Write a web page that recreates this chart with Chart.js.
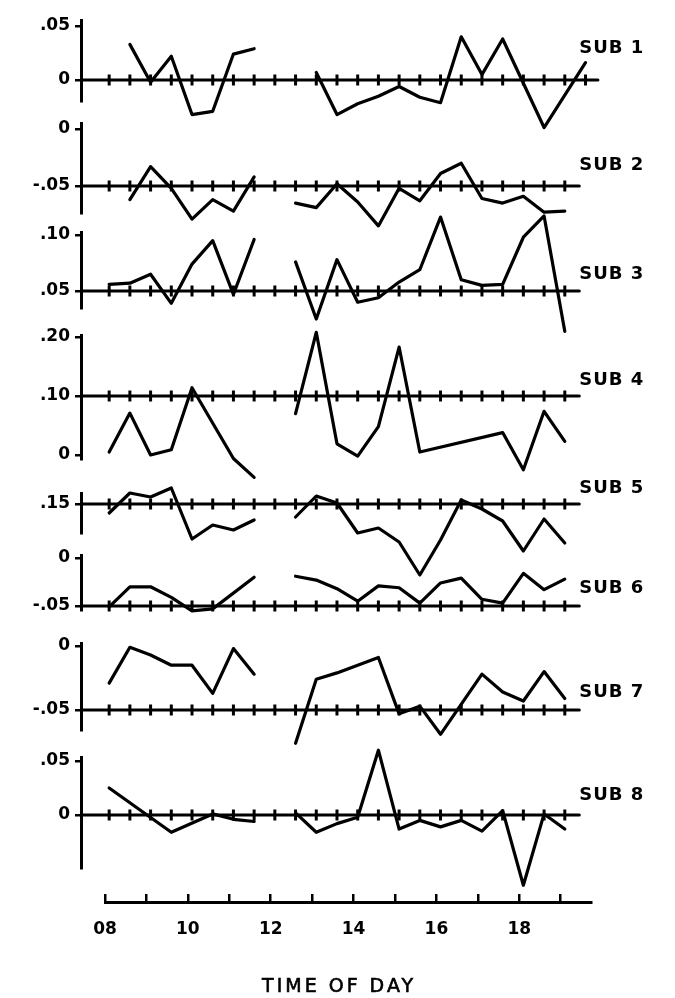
<!DOCTYPE html>
<html><head><meta charset="utf-8">
<script src="https://cdn.jsdelivr.net/npm/chart.js@4"></script>
<style>
html,body{margin:0;padding:0;background:#fff;}
#wrap{position:relative;width:675px;height:998px;overflow:hidden;background:#fff;}
#wrap canvas{position:absolute;left:0;top:0;}
</style></head><body><div id="wrap"></div>
<script>
// ---------- data ----------
const amTimes = [8.1, 8.6, 9.1, 9.6, 10.1, 10.6, 11.1, 11.6];
const lunchTime = 12.1;
const pmTimes = [12.6, 13.1, 13.6, 14.1, 14.6, 15.1, 15.6, 16.1, 16.6, 17.1, 17.6, 18.1, 18.6, 19.1, 19.6];

const subNames = ['SUB 1', 'SUB 2', 'SUB 3', 'SUB 4', 'SUB 5', 'SUB 6', 'SUB 7', 'SUB 8'];
const refLevels = [0, -0.05, 0.05, 0.10, 0.15, -0.05, -0.05, 0];

const sub1Am = [null, 0.033, -0.002, 0.022, -0.032, -0.029, 0.024, 0.029];
const sub1Pm = [null, 0.007, -0.032, -0.022, -0.015, -0.006, -0.016, -0.021, 0.040, 0.005, 0.038, null, -0.044, null, 0.016];
const sub2Am = [null, -0.062, -0.033, -0.052, -0.079, -0.062, -0.072, -0.042];
const sub2Pm = [-0.065, -0.069, -0.048, -0.064, -0.085, -0.052, -0.063, -0.039, -0.030, -0.061, -0.065, -0.059, -0.073, -0.072, null];
const sub3Am = [0.056, 0.057, 0.065, 0.039, 0.074, 0.095, 0.047, 0.096];
const sub3Pm = [0.076, 0.025, 0.078, 0.040, 0.044, 0.058, 0.069, 0.116, 0.060, 0.055, 0.056, 0.098, 0.117, 0.014, null];
const sub4Am = [0.005, 0.071, 0.000, 0.009, 0.114, null, -0.006, -0.038];
const sub4Pm = [0.070, 0.208, 0.019, -0.002, 0.048, 0.183, 0.005, null, null, null, 0.038, -0.025, 0.074, 0.023, null];
const sub5Am = [0.141, 0.161, 0.157, 0.166, 0.115, 0.129, 0.124, 0.134];
const sub5Pm = [0.137, 0.158, 0.151, 0.121, 0.126, 0.112, 0.079, 0.114, 0.154, 0.145, 0.133, 0.103, 0.135, 0.111, null];
const sub6Am = [-0.051, -0.030, -0.030, -0.041, -0.055, -0.053, null, -0.020];
const sub6Pm = [-0.019, -0.023, -0.032, -0.045, -0.029, -0.031, -0.047, -0.026, -0.021, -0.043, -0.047, -0.016, -0.033, -0.022, null];
const sub7Am = [-0.029, -0.001, -0.007, -0.015, -0.015, -0.037, -0.002, -0.022];
const sub7Pm = [-0.076, -0.026, -0.021, null, -0.009, -0.053, -0.047, -0.069, null, -0.022, -0.036, -0.043, -0.020, -0.041, null];
const sub8Am = [0.025, null, null, -0.016, null, 0.001, -0.004, -0.006];
const sub8Pm = [0.002, -0.016, -0.008, -0.002, 0.060, -0.013, -0.005, -0.011, -0.005, -0.015, 0.004, -0.065, 0.001, -0.013, null];

const amSeries = [sub1Am, sub2Am, sub3Am, sub4Am, sub5Am, sub6Am, sub7Am, sub8Am];
const pmSeries = [sub1Pm, sub2Pm, sub3Pm, sub4Pm, sub5Pm, sub6Pm, sub7Pm, sub8Pm];

const yTickValues = [[0.05, 0], [0, -0.05], [0.10, 0.05], [0.20, 0.10, 0], [0.15], [0, -0.05], [0, -0.05], [0.05, 0]];
const yTickLabels = [['.05', '0'], ['0', '-.05'], ['.10', '.05'], ['.20', '.10', '0'], ['.15'], ['0', '-.05'], ['0', '-.05'], ['.05', '0']];

const hourTicks = [8, 9, 10, 11, 12, 13, 14, 15, 16, 17, 18, 19];
const hourLabels = ['08', '', '10', '', '12', '', '14', '', '16', '', '18', ''];
const axisTitle = 'TIME OF DAY';

// ---------- layout (pixels) ----------
const W = 675, H = 998;
const AREA_LEFT = 81, AREA_RIGHT = 600, X_MIN = 7.42, X_MAX = 19.95;
const LABEL_HOUR = 19.45;
const panelLayout = [
  {top: 20,  bottom: 101, v1: 0.05, p1: 26,  v2: 0,     p2: 80,  refEnd: 19.9,  tickEnd: 19.6, labelY: 48},
  {top: 123, bottom: 213, v1: 0,    p1: 129, v2: -0.05, p2: 186, refEnd: 19.45, tickEnd: 19.1, labelY: 165},
  {top: 232, bottom: 308, v1: 0.10, p1: 235, v2: 0.05,  p2: 291, refEnd: 19.45, tickEnd: 19.1, labelY: 274},
  {top: 335, bottom: 459, v1: 0.20, p1: 337, v2: 0,     p2: 455, refEnd: 19.45, tickEnd: 19.1, labelY: 380},
  {top: 493, bottom: 533, v1: 0.15, p1: 504, v2: 0.10,  p2: 554, refEnd: 19.45, tickEnd: 19.1, labelY: 488},
  {top: 555, bottom: 610, v1: 0,    p1: 558, v2: -0.05, p2: 606, refEnd: 19.45, tickEnd: 19.1, labelY: 588},
  {top: 643, bottom: 730, v1: 0,    p1: 646, v2: -0.05, p2: 710, refEnd: 19.45, tickEnd: 19.1, labelY: 692},
  {top: 757, bottom: 868, v1: 0.05, p1: 761, v2: 0,     p2: 815, refEnd: 19.45, tickEnd: 19.1, labelY: 795}
];
const AXIS_Y = 902, AXIS_TICK_H = 8, AXIS_END = 19.75;
const TITLE_HOUR = 13.65, TITLE_Y = 987;

const FONT = '"DejaVu Sans", "Liberation Sans", sans-serif';
const wrap = document.getElementById('wrap');
const hourPx = h => AREA_LEFT + (h - X_MIN) * (AREA_RIGHT - AREA_LEFT) / (X_MAX - X_MIN);

function newCanvas() {
  const c = document.createElement('canvas');
  c.width = W; c.height = H; c.style.width = W + 'px'; c.style.height = H + 'px';
  wrap.appendChild(c);
  return c;
}

const subLabelPlugin = {
  id: 'subLabel',
  afterDraw(chart, args, opts) {
    const ctx = chart.ctx;
    ctx.save();
    ctx.font = 'bold 18px ' + FONT;
    try { ctx.letterSpacing = '1px'; } catch (e) {}
    ctx.fillStyle = '#000';
    ctx.textBaseline = 'middle';
    ctx.textAlign = 'left';
    ctx.fillText(opts.text, chart.scales.x.getPixelForValue(LABEL_HOUR), opts.y);
    ctx.restore();
  }
};

function makePanel(i) {
  const L = panelLayout[i];
  const k = (L.p2 - L.p1) / (L.v1 - L.v2);
  const yMax = L.v1 + (L.p1 - L.top) / k;
  const yMin = L.v1 - (L.bottom - L.p1) / k;
  const ref = refLevels[i];
  const tickTimes = amTimes.concat([lunchTime], pmTimes).filter(t => t <= L.tickEnd + 1e-6);
  const lineDs = (pts) => ({data: pts, borderColor: '#000', borderWidth: 3.2, pointRadius: 0, spanGaps: true, clip: false, tension: 0});
  new Chart(newCanvas(), {
    type: 'line',
    data: {datasets: [
      {data: [{x: X_MIN, y: ref}, {x: L.refEnd, y: ref}], borderColor: '#000', borderWidth: 3, pointRadius: 0, clip: false},
      {data: tickTimes.map(t => ({x: t, y: ref})), showLine: false, pointStyle: 'line', rotation: 90,
       pointRadius: 5.5, pointBorderWidth: 3, pointBorderColor: '#000', borderColor: '#000', clip: false},
      lineDs(amTimes.map((t, j) => ({x: t, y: amSeries[i][j]}))),
      lineDs(pmTimes.map((t, j) => ({x: t, y: pmSeries[i][j]})))
    ]},
    options: {
      responsive: false, animation: false, devicePixelRatio: 1, events: [],
      layout: {padding: {top: L.top, bottom: H - L.bottom, left: 0, right: W - AREA_RIGHT}},
      plugins: {legend: {display: false}, tooltip: {enabled: false}, subLabel: {text: subNames[i], y: L.labelY}},
      elements: {line: {borderJoinStyle: 'round', borderCapStyle: 'round'}},
      scales: {
        x: {type: 'linear', min: X_MIN, max: X_MAX, display: false},
        y: {
          type: 'linear', min: yMin, max: yMax,
          afterFit(s) { s.width = AREA_LEFT; },
          afterBuildTicks(s) { s.ticks = yTickValues[i].map(v => ({value: v})); },
          ticks: {callback: (v, idx) => yTickLabels[i][idx], font: {family: FONT, weight: 'bold', size: 17},
                  color: '#000', padding: 5, autoSkip: false},
          grid: {drawOnChartArea: false, drawTicks: true, tickLength: 6, lineWidth: 2.5, color: '#000'},
          border: {display: true, color: '#000', width: 3}
        }
      }
    },
    plugins: [subLabelPlugin]
  });
}

for (let i = 0; i < 8; i++) makePanel(i);

const titlePlugin = {
  id: 'axisTitleText',
  afterDraw(chart) {
    const ctx = chart.ctx;
    ctx.save();
    ctx.font = '19px ' + FONT;
    try { ctx.letterSpacing = '3px'; } catch (e) {}
    ctx.fillStyle = '#000';
    ctx.strokeStyle = '#000';
    ctx.lineWidth = 0.6;
    ctx.textAlign = 'center';
    ctx.textBaseline = 'middle';
    const x = chart.scales.x.getPixelForValue(TITLE_HOUR);
    ctx.fillText(axisTitle, x, TITLE_Y);
    ctx.strokeText(axisTitle, x, TITLE_Y);
    ctx.restore();
  }
};

new Chart(newCanvas(), {
  type: 'line',
  data: {datasets: [{data: []}]},
  options: {
    responsive: false, animation: false, devicePixelRatio: 1, events: [],
    layout: {padding: {top: AXIS_Y - AXIS_TICK_H, bottom: 0, left: hourPx(8), right: W - hourPx(AXIS_END)}},
    plugins: {legend: {display: false}, tooltip: {enabled: false}},
    scales: {
      x: {
        type: 'linear', min: 8, max: AXIS_END, position: 'bottom',
        afterBuildTicks(s) { s.ticks = hourTicks.map(v => ({value: v})); },
        afterFit(s) { s.height = H - AXIS_Y; },
        ticks: {callback: (v, idx) => hourLabels[idx], font: {family: FONT, weight: 'bold', size: 17},
                color: '#000', padding: 17, autoSkip: false, maxRotation: 0},
        grid: {drawOnChartArea: true, drawTicks: false, lineWidth: 2.5, color: '#000'},
        border: {display: true, color: '#000', width: 3}
      },
      y: {display: false, min: 0, max: 1}
    }
  },
  plugins: [titlePlugin]
});
</script></body></html>
